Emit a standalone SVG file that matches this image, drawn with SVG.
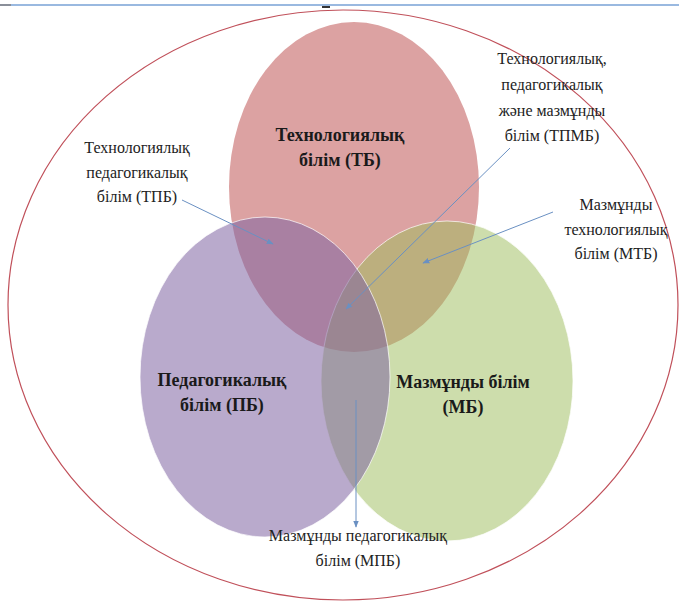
<svg xmlns="http://www.w3.org/2000/svg" width="679" height="603" viewBox="0 0 679 603">
<defs>
<marker id="ah" viewBox="0 0 10 10" refX="9" refY="5" markerWidth="7" markerHeight="7" orient="auto" markerUnits="userSpaceOnUse">
<path d="M0,1 L10,5 L0,9 z" fill="#6a90c2"/>
</marker>
</defs>
<rect width="679" height="603" fill="#ffffff"/>
<line x1="0" y1="5" x2="679" y2="5" stroke="#9ab9e0" stroke-width="2"/>
<line x1="0" y1="5" x2="11" y2="5" stroke="#8a8f99" stroke-width="2"/>
<line x1="322" y1="7" x2="330" y2="7" stroke="#333" stroke-width="2"/>
<g id="outer"><ellipse cx="343" cy="305" rx="335" ry="295" fill="none" stroke="#c0505a" stroke-width="1.2"/></g>
<g id="tb"><ellipse cx="354" cy="187" rx="125" ry="165" fill="#dca2a2"/></g>
<g id="mb"><ellipse cx="447" cy="381" rx="126" ry="160" fill="#9bbb59" fill-opacity="0.5" stroke="#fff" stroke-opacity="0.7" stroke-width="1"/></g>
<g id="pb"><ellipse cx="265" cy="377" rx="125" ry="160" fill="#8064a2" fill-opacity="0.55" stroke="#fff" stroke-opacity="0.7" stroke-width="1"/></g>
<g font-weight="bold" font-size="18" fill="#1a1a1a" text-anchor="middle">
<g id="tb-label"><text font-family="Liberation Serif" x="340" y="141">Технологиялық</text><text font-family="Liberation Serif" x="340" y="166">білім (ТБ)</text></g>
<g id="pb-label"><text font-family="Liberation Serif" x="222" y="386">Педагогикалық</text><text font-family="Liberation Serif" x="222" y="411">білім (ПБ)</text></g>
<g id="mb-label"><text font-family="Liberation Serif" x="463" y="388">Мазмұнды білім</text><text font-family="Liberation Serif" x="463" y="413">(МБ)</text></g>
</g>
<g font-size="16" fill="#222" text-anchor="middle">
<g id="tpb"><text font-family="Liberation Serif" x="137" y="153">Технологиялық</text><text font-family="Liberation Serif" x="137" y="178">педагогикалық</text><text font-family="Liberation Serif" x="137" y="202">білім (ТПБ)</text></g>
<g id="tpmb"><text font-family="Liberation Serif" x="552" y="64">Технологиялық,</text><text font-family="Liberation Serif" x="552" y="90">педагогикалық</text><text font-family="Liberation Serif" x="552" y="116">және мазмұнды</text><text font-family="Liberation Serif" x="552" y="141">білім (ТПМБ)</text></g>
<g id="mtb"><text font-family="Liberation Serif" x="616" y="210">Мазмұнды</text><text font-family="Liberation Serif" x="616" y="235">технологиялық</text><text font-family="Liberation Serif" x="616" y="259">білім (МТБ)</text></g>
<g id="mpb"><text font-family="Liberation Serif" x="358" y="541">Мазмұнды педагогикалық</text><text font-family="Liberation Serif" x="358" y="566">білім (МПБ)</text></g>
</g>
<g id="connectors" stroke="#6a90c2" stroke-width="1" fill="none" marker-end="url(#ah)">
<line x1="182" y1="200" x2="273" y2="244"/>
<line x1="510" y1="148" x2="346" y2="309"/>
<line x1="553" y1="212" x2="423" y2="263"/>
<line x1="356" y1="400" x2="356" y2="527"/>
</g>
</svg>
